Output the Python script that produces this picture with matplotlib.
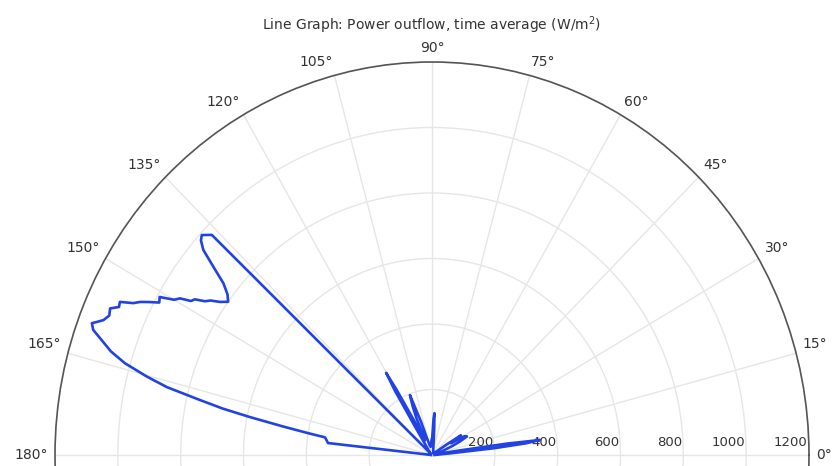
import numpy as np
import matplotlib.pyplot as plt
from matplotlib.transforms import offset_copy

# Winkel in Grad und Leistungsfluss (W/m^2)
theta_deg = [0, 3, 5, 6, 6.8, 7.6, 8.3, 9, 10, 12, 16, 20, 23, 25, 27, 29, 31, 33,
             34.5, 36, 40, 45, 52, 60, 68, 75, 80, 83, 85, 86.5, 87.5, 89, 92, 96,
             100, 104, 107, 109, 111, 112.5, 113.8, 115, 117, 118.5, 119.5, 120.2,
             121, 122, 123.5, 126, 129, 132, 135, 135.6, 136.2, 137.5, 138.3, 139.3,
             140.5, 141.7, 143, 144.2, 145.3, 146.2, 147, 147.8, 148.5, 149.2, 150,
             150.9, 151.8, 152.6, 153.3, 154, 154.8, 155.6, 156.4, 157.5, 158.5,
             159.1, 159.6, 160.5, 161.5, 162.8, 164, 165.2, 166.2, 167.2, 168, 168.7,
             169.6, 170.4, 171, 172, 173, 173.7, 174.2, 175, 177, 180]
power = [8, 15, 60, 200, 300, 347, 240, 90, 30, 12, 15, 35, 70, 100, 125, 118, 70, 110,
         60, 25, 12, 8, 10, 8, 12, 15, 25, 45, 80, 128, 110, 55, 45, 30,
         25, 30, 50, 110, 196, 160, 122, 60, 50, 120, 230, 290,
         230, 100, 40, 20, 15, 10, 8, 6, 971, 994, 985, 960,
         900, 846, 815, 800, 821, 848, 862, 892, 900, 934, 948,
         992, 985, 1015, 1040, 1058, 1098, 1094, 1118, 1112, 1124,
         1140, 1155, 1144, 1110, 1070, 1017, 940, 869, 757, 680, 591,
         481, 400, 345, 340, 336, 333, 20, 10, 5, 3]

r_ticks = [200, 400, 600, 800, 1000, 1200]
angle_ticks = list(range(0, 181, 15))
angle_labels = [f'{a}°' for a in angle_ticks]

fig = plt.figure(figsize=(8.35, 4.66), dpi=100)
# Mittelpunkt bei (432, 455) px, Radius 377 px horizontal / 393 px vertikal
ax = fig.add_axes([55 / 835, (11 - 393) / 466, 754 / 835, 786 / 466], projection='polar')
ax.set_aspect('auto')

ax.plot(np.deg2rad(theta_deg), power, color='#2143e3', lw=1.9, zorder=3)

ax.set_rlim(0, 1200)
ax.set_rticks(r_ticks)
ax.set_rlabel_position(0)
ax.set_thetagrids(angle_ticks, labels=angle_labels)

ax.grid(color='#e6e6e6', lw=1)
ax.spines['polar'].set_color('#555555')
ax.spines['polar'].set_linewidth(1.2)
ax.tick_params(axis='x', pad=-5.5, labelsize=10, labelcolor='#333333')
ax.tick_params(axis='y', labelsize=9.5, labelcolor='#333333')

# Winkelbeschriftungen aussen an den Bogen anlegen (links rechtsbuendig, rechts linksbuendig)
for lab, a in zip(ax.get_xticklabels(), angle_ticks):
    if a == 90:
        lab.set_ha('center')
    elif a > 90:
        lab.set_ha('right')
    else:
        lab.set_ha('left')
    lab.set_va('center' if a in (0, 180) else 'bottom')

for lab in ax.get_yticklabels():
    lab.set_ha('right')
    lab.set_va('bottom')
    lab.set_transform(offset_copy(lab.get_transform(), fig=fig, x=-1, y=4, units='points'))

fig.text(432 / 835, 1 - 25 / 466, 'Line Graph: Power outflow, time average (W/m$^2$)',
         ha='center', va='center', fontsize=10, color='#333333')

fig.savefig('out.png', dpi=100)
